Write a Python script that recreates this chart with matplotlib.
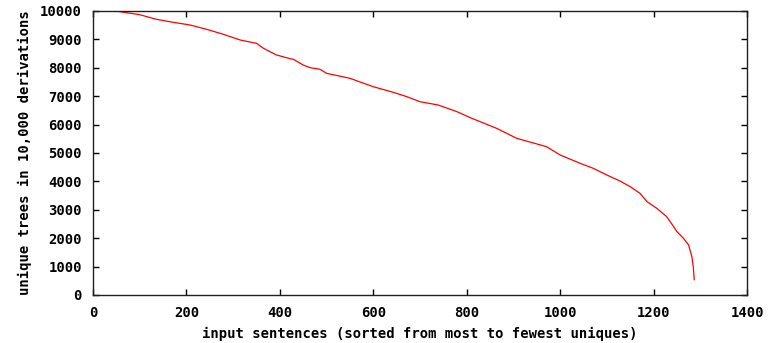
import matplotlib
matplotlib.use("Agg")
import matplotlib.pyplot as plt

# sentence rank (sorted from most to fewest uniques) vs unique trees
sentences = [49, 72, 100, 136, 172, 208, 243, 279, 315, 350, 365, 379, 393, 422,
             429, 450, 465, 486, 500, 550, 600, 643, 672, 700, 739, 779, 811, 864,
             907, 971, 1000, 1043, 1071, 1100, 1128, 1150, 1171, 1186, 1207, 1228,
             1243, 1250, 1264, 1275, 1282, 1285, 1287]
uniques = [10000, 9941, 9870, 9707, 9601, 9507, 9356, 9180, 8979, 8862, 8686, 8567,
           8451, 8320, 8299, 8099, 8004, 7947, 7806, 7630, 7334, 7136, 6982, 6806,
           6690, 6455, 6221, 5869, 5517, 5222, 4930, 4636, 4460, 4225, 4014, 3814,
           3580, 3286, 3051, 2758, 2406, 2230, 1996, 1761, 1350, 996, 540]

x_ticks = [0, 200, 400, 600, 800, 1000, 1200, 1400]
y_ticks = [0, 1000, 2000, 3000, 4000, 5000, 6000, 7000, 8000, 9000, 10000]

font = {"family": "DejaVu Sans Mono", "weight": "bold", "size": 10}

fig = plt.figure(figsize=(7.69, 3.43), dpi=100)
ax = fig.add_axes([93/769, 48/343, (747-93)/769, (295-11)/343])
ax.plot(sentences, uniques, color="#ff0000", linewidth=0.9)

ax.set_xlim(0, 1400)
ax.set_ylim(0, 10000)
ax.set_xticks(x_ticks)
ax.set_yticks(y_ticks)
ax.set_xticklabels([str(t) for t in x_ticks], fontdict=font)
ax.set_yticklabels([str(t) for t in y_ticks], fontdict=font)
ax.tick_params(direction="in", length=4, width=1, top=True, right=True, pad=8)
for s in ax.spines.values():
    s.set_linewidth(1)
    s.set_color("#202020")

ax.set_xlabel("input sentences (sorted from most to fewest uniques)", fontdict=font, labelpad=5)
ax.set_ylabel("unique trees in 10,000 derivations", fontdict=font, labelpad=6)

fig.savefig("out.png", dpi=100)
